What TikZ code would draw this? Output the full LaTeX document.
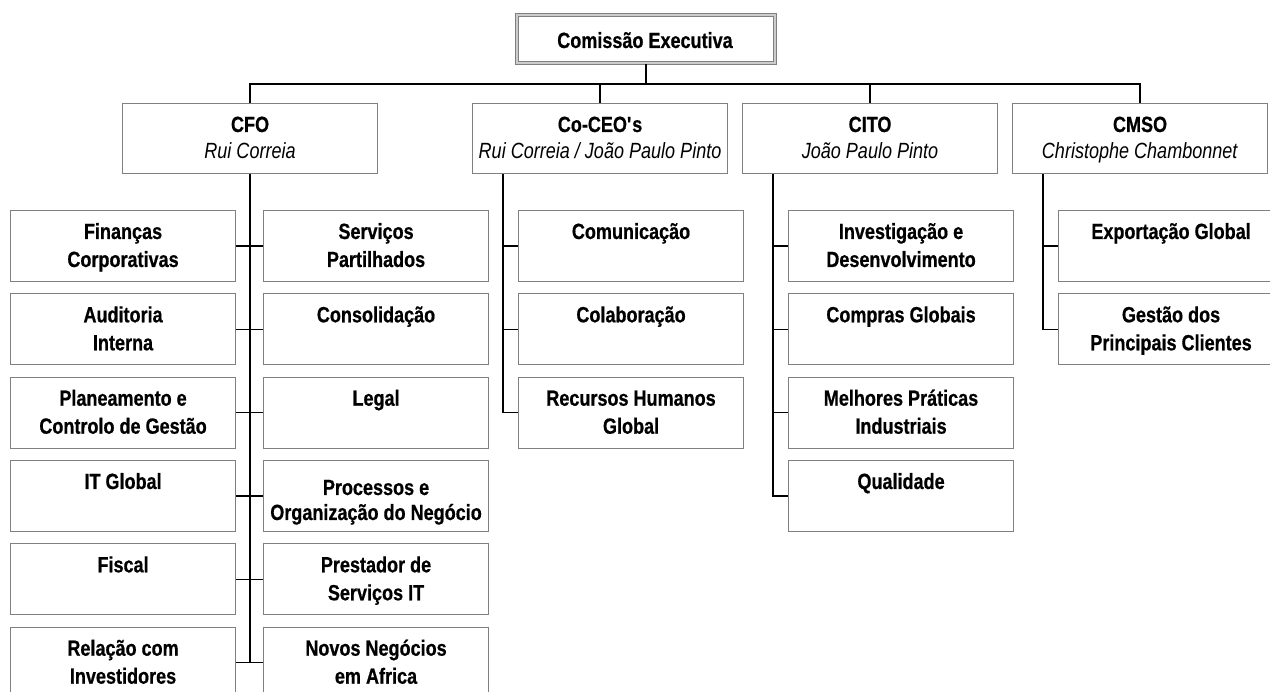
\documentclass[tikz,border=0pt]{standalone}
\usepackage{fontspec}
\setmainfont[FakeStretch=0.82, BoldFeatures={FakeBold=0.6}]{Liberation Sans}
\newcommand{\tl}[1]{\begin{tabular}[t]{@{}c@{}}#1\end{tabular}}
\definecolor{boxgray}{RGB}{128,128,128}
\tikzset{
  cbox/.style={draw=boxgray, line width=1.1pt, fill=white, inner sep=0pt, minimum width=225pt, minimum height=71pt, anchor=north west},
  tbox/.style={draw=boxgray, line width=1.1pt, fill=white, inner sep=0pt, minimum width=255pt, minimum height=70pt, anchor=north west},
  lbl/.style={anchor=base, inner sep=0pt, font=\fontsize{22}{28}\selectfont\bfseries},
  tlbl/.style={anchor=base, inner sep=0pt, font=\fontsize{22}{27}\selectfont},
  conn/.style={draw=black, line width=1.3pt},
}
\newcommand{\cb}[4]{%
  \node[cbox] (#1) at (#2,#3) {};
  \node[lbl] (#1t) at ([yshift=-29pt]#1.north) {\tl{#4}};}
\newcommand{\tb}[4]{%
  \node[tbox] (#1) at (#2,103) {};
  \node[tlbl] (#1t) at ([yshift=-29pt]#1.north) {\tl{\textbf{#3}\\\textit{#4}}};}
\begin{document}
\begin{tikzpicture}[x=1pt,y=-1pt]
\clip (0,0) rectangle (1270,692);
\fill[white] (0,0) rectangle (1270,692);
% top box
\node[draw=boxgray, line width=1pt, double=gray!40, double distance=1.6pt, fill=white, inner sep=0pt, minimum width=258.5pt, minimum height=48.5pt] (ce) at (646,39) {};
\node[lbl] (cet) at (645,48) {Comissão Executiva};
% second level
\tb{cfo}{122}{CFO}{Rui Correia}
\tb{coceo}{472}{Co-CEO\textquotesingle s}{Rui Correia / João Paulo Pinto}
\tb{cito}{742}{CITO}{João Paulo Pinto}
\tb{cmso}{1012}{CMSO}{Christophe Chambonnet}
\coordinate (hl) at (0,84);
\draw[conn] (ce.south) -- (ce.south |- hl);
\draw[conn] (cfo.north) -- (cfo.north |- hl) -- (cmso.north |- hl) -- (cmso.north);
\draw[conn] (coceo.north) -- (coceo.north |- hl);
\draw[conn] (cito.north) -- (cito.north |- hl);
% CFO children
\cb{fa}{10}{210}{Finanças\\Corporativas}
\cb{au}{10}{293.3}{Auditoria\\Interna}
\cb{pl}{10}{376.7}{Planeamento e\\Controlo de Gestão}
\cb{it}{10}{460}{IT Global}
\cb{fi}{10}{543.3}{Fiscal}
\cb{re}{10}{626.7}{Relação com\\Investidores}
\cb{se}{263}{210}{Serviços\\Partilhados}
\cb{co}{263}{293.3}{Consolidação}
\cb{le}{263}{376.7}{Legal}
\node[cbox] (pr) at (263,460) {};
\node[lbl, font=\fontsize{22}{25}\selectfont\bfseries] (prt) at ([yshift=-35pt]pr.north) {\tl{Processos e\\Organização do Negócio}};
\cb{ps}{263}{543.3}{Prestador de\\Serviços IT}
\cb{nn}{263}{626.7}{Novos Negócios\\em Africa}
\draw[conn] (cfo.south) -- (cfo.south |- re.east);
\foreach \a/\b in {fa/se,au/co,pl/le,it/pr,fi/ps,re/nn}{
  \draw[conn] (\a.east) -- (\b.west);
}
% Co-CEO children
\cb{cm}{518}{210}{Comunicação}
\cb{cl}{518}{293.3}{Colaboração}
\cb{rh}{518}{376.7}{Recursos Humanos\\Global}
\coordinate (cv1) at ([xshift=31pt]coceo.south west);
\draw[conn] (cv1) |- (rh.west);
\draw[conn] (cv1 |- cm.west) -- (cm.west);
\draw[conn] (cv1 |- cl.west) -- (cl.west);
% CITO children
\cb{id}{788}{210}{Investigação e\\Desenvolvimento}
\cb{cg}{788}{293.3}{Compras Globais}
\cb{mp}{788}{376.7}{Melhores Práticas\\Industriais}
\cb{qu}{788}{460}{Qualidade}
\coordinate (cv2) at ([xshift=31pt]cito.south west);
\draw[conn] (cv2) |- (qu.west);
\draw[conn] (cv2 |- id.west) -- (id.west);
\draw[conn] (cv2 |- cg.west) -- (cg.west);
\draw[conn] (cv2 |- mp.west) -- (mp.west);
% CMSO children
\cb{eg}{1058}{210}{Exportação Global}
\cb{gp}{1058}{293.3}{Gestão dos\\Principais Clientes}
\coordinate (cv3) at ([xshift=31pt]cmso.south west);
\draw[conn] (cv3) |- (gp.west);
\draw[conn] (cv3 |- eg.west) -- (eg.west);
\end{tikzpicture}
\end{document}
